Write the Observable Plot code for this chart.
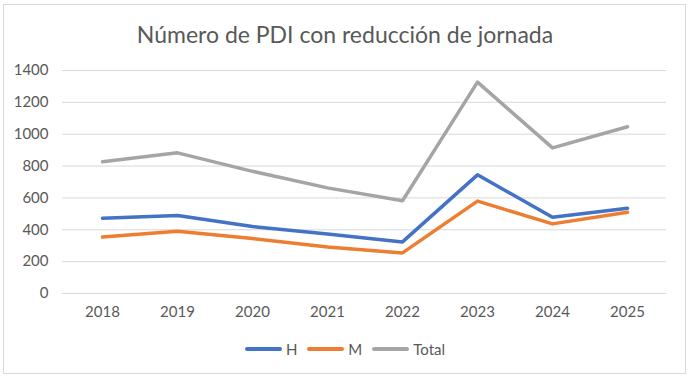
<!DOCTYPE html>
<html>
<head>
<meta charset="utf-8">
<script src="https://cdn.jsdelivr.net/npm/d3@7"></script>
<script src="https://cdn.jsdelivr.net/npm/@observablehq/plot@0.6"></script>
<style>
  html, body { margin: 0; padding: 0; background: #fff; }
  #wrap { position: relative; width: 690px; height: 379px; overflow: hidden; font-family: Lato, "Open Sans", sans-serif; }
  #frame { position: absolute; left: 3px; top: 4px; width: 683px; height: 370px; border: 1px solid #d9d9d9; box-sizing: border-box; }
  #title { position: absolute; left: 0; width: 690px; top: 20px; text-align: center; font-size: 23px; font-weight: 400; color: #595959; }
  #chart { position: absolute; left: 0; top: 55px; }
  #legend { position: absolute; left: 0; width: 690px; top: 340px; display: flex; justify-content: center; gap: 10px; font-size: 15px; color: #595959; }
  .item { display: flex; align-items: center; }
  .sw { width: 37px; height: 4px; border-radius: 2px; margin-right: 4px; }
</style>
</head>
<body>
<div id="wrap">
  <div id="frame"></div>
  <div id="title">Número de PDI con reducción de jornada</div>
  <div id="chart"></div>
  <div id="legend"></div>
</div>
<script>
const years = ["2018", "2019", "2020", "2021", "2022", "2023", "2024", "2025"];
const H = [473, 490, 420, 373, 324, 745, 479, 535];
const M = [354, 391, 345, 292, 255, 580, 437, 510];
const Total = [827, 883, 767, 663, 582, 1327, 914, 1047];
const seriesNames = ["H", "M", "Total"];
const seriesColors = ["#4472C4", "#ED7D31", "#A5A5A5"];
const yTicks = [0, 200, 400, 600, 800, 1000, 1200, 1400];

const seriesValues = [H, M, Total];
const data = seriesNames.flatMap((s, i) =>
  years.map((y, j) => ({ series: s, year: y, value: seriesValues[i][j] }))
);

const chart = Plot.plot({
  width: 690,
  height: 270,
  marginLeft: 62,
  marginRight: 24,
  marginTop: 15,
  marginBottom: 32,
  style: { fontFamily: "Lato, 'Open Sans', sans-serif", fontSize: "15px", color: "#595959", background: "transparent", overflow: "visible" },
  x: { type: "point", domain: years, padding: 0.5, label: null },
  y: { domain: [0, 1400], label: null },
  color: { domain: seriesNames, range: seriesColors },
  marks: [
    Plot.ruleY(yTicks, { stroke: "#d9d9d9", strokeWidth: 1 }),
    Plot.line(data, { x: "year", y: "value", z: "series", stroke: "series", strokeWidth: 3.5, strokeLinecap: "round", strokeLinejoin: "round" }),
    Plot.axisX({ tickSize: 0, tickPadding: 13, label: null }),
    Plot.axisY({ ticks: yTicks, tickFormat: d => String(d), tickSize: 0, tickPadding: 14, label: null })
  ]
});
document.getElementById("chart").appendChild(chart);

const legend = document.getElementById("legend");
seriesNames.forEach((s, i) => {
  const item = document.createElement("div");
  item.className = "item";
  const sw = document.createElement("div");
  sw.className = "sw";
  sw.style.background = seriesColors[i];
  const t = document.createElement("span");
  t.textContent = s;
  item.appendChild(sw);
  item.appendChild(t);
  legend.appendChild(item);
});
</script>
</body>
</html>
